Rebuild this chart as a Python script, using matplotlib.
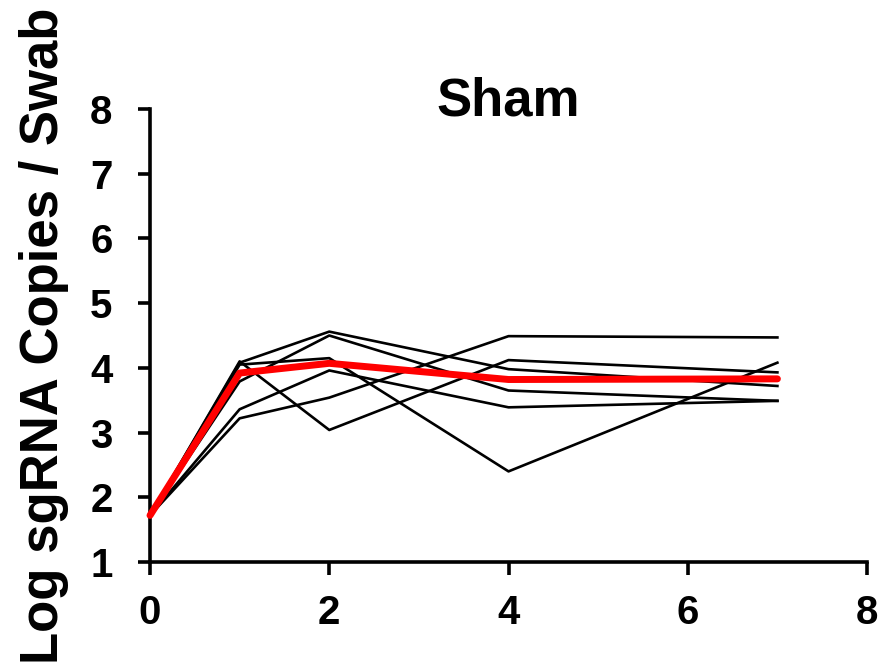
import matplotlib.pyplot as plt

plt.rcParams['font.family'] = ['Liberation Sans', 'DejaVu Sans']
plt.rcParams['font.weight'] = 'bold'

# days post challenge
days = [0, 1, 2, 4, 7]

# individual animals (log sgRNA copies per swab)
animal_1 = [1.72, 4.08, 4.56, 3.98, 3.72]
animal_2 = [1.72, 3.79, 4.50, 3.65, 3.49]
animal_3 = [1.72, 4.10, 3.04, 4.12, 3.93]
animal_4 = [1.72, 4.05, 4.15, 2.40, 4.08]
animal_5 = [1.72, 3.36, 3.96, 3.39, 3.49]
animal_6 = [1.72, 3.22, 3.54, 4.49, 4.47]

# group median
median = [1.72, 3.92, 4.07, 3.82, 3.83]

fig = plt.figure(figsize=(8.84, 6.70), dpi=100)
ax = fig.add_axes([0.1697, 0.1612, 0.8111, 0.6761])

for a in [animal_1, animal_2, animal_3, animal_4, animal_5, animal_6]:
    ax.plot(days, a, color='black', lw=1.9, clip_on=False)
ax.plot(days, median, color='#ff0000', lw=5, solid_capstyle='round', clip_on=False, zorder=5)

ax.set_xlim(0, 8)
ax.set_ylim(1, 8)
ax.set_xticks([0, 2, 4, 6, 8])
ax.set_yticks(range(1, 9))

for s in ['top', 'right']:
    ax.spines[s].set_visible(False)
for s in ['left', 'bottom']:
    ax.spines[s].set_linewidth(2.6)

ax.tick_params(axis='both', direction='out', length=9, width=2.6, labelsize=29)
ax.tick_params(axis='y', pad=18)
ax.tick_params(axis='x', pad=14)
for lbl in ax.get_xticklabels() + ax.get_yticklabels():
    lbl.set_fontweight('bold')

ax.set_ylabel('Log sgRNA Copies / Swab', fontsize=38, fontweight='bold')
ax.yaxis.set_label_coords(-0.113, 0.5)
ax.text(4, 7.9, 'Sham', ha='center', va='baseline', fontsize=38, fontweight='bold')

fig.savefig('out.png', dpi=100)
